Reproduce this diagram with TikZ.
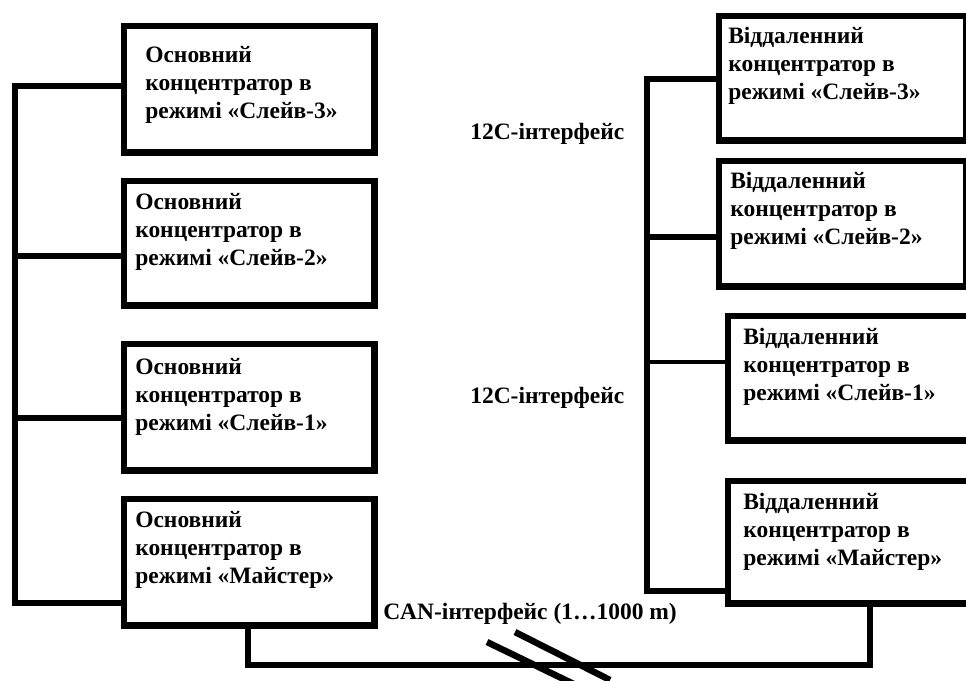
\documentclass[tikz,border=0pt]{standalone}
\usepackage{fontspec}
\setmainfont{Liberation Serif}
\begin{document}
\begin{tikzpicture}[x=0.025cm,y=-0.025cm,
  box/.style={draw,line width=4.6pt,inner sep=0pt,anchor=north west},
  bus/.style={line width=4.6pt},
  txt/.style={font=\fontsize{16.7}{19.6}\selectfont\bfseries,align=left,anchor=base west,inner sep=0pt}]
\clip(0,0)rectangle(966,680);
% left side
\node[box,minimum width=6.25cm,minimum height=3.15cm](l1)at(121,23){};
\node[box,minimum width=6.25cm,minimum height=3.1cm](l2)at(121,178){};
\node[box,minimum width=6.25cm,minimum height=3.15cm](l3)at(121,341){};
\node[box,minimum width=6.25cm,minimum height=3.15cm](l4)at(121,496){};
\node[txt](l1t)at(145,118){Основний\\концентратор в\\режимі «Слейв-3»};
\node[txt](l2t)at(135,265){Основний\\концентратор в\\режимі «Слейв-2»};
\node[txt](l3t)at(135,430){Основний\\концентратор в\\режимі «Слейв-1»};
\node[txt](l4t)at(135,583){Основний\\концентратор в\\режимі «Майстер»};

% right side
\node[box,minimum width=6.175cm,minimum height=3.1cm](r1)at(716,13){};
\node[box,minimum width=6.175cm,minimum height=3.125cm](r2)at(716,158){};
\node[box,minimum width=6.625cm,minimum height=3.1cm](r3)at(725,313){};
\node[box,minimum width=6.625cm,minimum height=3.05cm](r4)at(725,478){};
\node[txt](r1t)at(728,99){Віддаленний\\концентратор в\\режимі «Слейв-3»};
\node[txt](r2t)at(730,244){Віддаленний\\концентратор в\\режимі «Слейв-2»};
\node[txt](r3t)at(743,400){Віддаленний\\концентратор в\\режимі «Слейв-1»};
\node[txt](r4t)at(743,565){Віддаленний\\концентратор в\\режимі «Майстер»};

% interface labels
\node[txt,anchor=west](i2ca)at(470,134){12С-інтерфейс};
\node[txt,anchor=west](i2cb)at(470,398){12С-інтерфейс};
\node[txt,anchor=west](can)at(383,614){CAN-інтерфейс (1…1000 m)};

% buses
\draw[bus](l1.west |- 0,86)--(15,86)--(15,603)--(l4.west |- 0,603);
\foreach \y/\b in{256/l2,418/l3}
{
    \draw[bus](\b.west |- 0,\y)--(15,\y);
}
\draw[bus](r1.west |- 0,79)--(647,79)--(647,591)--(r4.west |- 0,591);
\draw[bus](r2.west |- 0,237)--(647,237);
\draw[line width=3pt](r3.west |- 0,362)--(647,362);
\draw[bus](l4.south -| 248,0)--(248,665)--(870,665)--(r4.south -| 870,0);
\draw[bus](487,642)--(582,688);
\draw[bus](515,632)--(610,680);

\end{tikzpicture}
\end{document}
